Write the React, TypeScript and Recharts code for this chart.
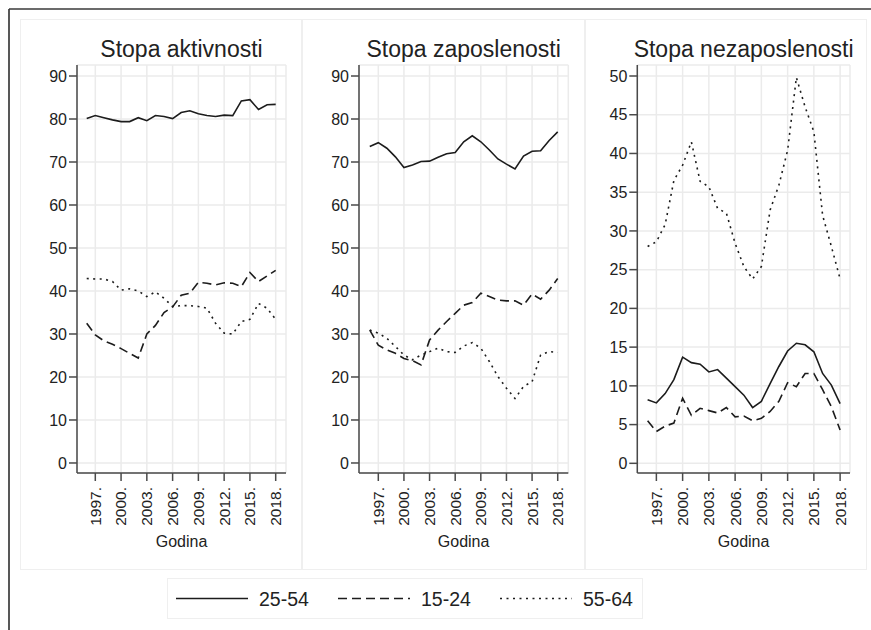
import React from 'react';
import { LineChart, Line, XAxis, YAxis, CartesianGrid } from 'recharts';

const years = [1996, 1997, 1998, 1999, 2000, 2001, 2002, 2003, 2004, 2005, 2006, 2007, 2008, 2009, 2010, 2011, 2012, 2013, 2014, 2015, 2016, 2017, 2018];
const yearTicks = [1997, 2000, 2003, 2006, 2009, 2012, 2015, 2018];
const rateTicks = [0, 10, 20, 30, 40, 50, 60, 70, 80, 90];
const unempTicks = [0, 5, 10, 15, 20, 25, 30, 35, 40, 45, 50];

const seriesNames = ['25-54', '15-24', '55-64'];
const panelTitles = ['Stopa aktivnosti', 'Stopa zaposlenosti', 'Stopa nezaposlenosti'];

// stopa aktivnosti
const activity2554 = [80.1, 80.8, 80.3, 79.8, 79.4, 79.4, 80.3, 79.6, 80.8, 80.6, 80.1, 81.5, 81.9, 81.2, 80.8, 80.6, 80.9, 80.8, 84.2, 84.5, 82.2, 83.3, 83.4];
const activity1524 = [32.5, 29.8, 28.4, 27.6, 26.6, 25.5, 24.4, 30.0, 32.0, 35.0, 36.3, 39.0, 39.5, 42.0, 41.8, 41.4, 41.9, 41.8, 41.0, 44.3, 42.2, 43.5, 44.8];
const activity5564 = [42.9, 42.8, 42.8, 42.2, 40.2, 40.5, 40.0, 38.7, 39.8, 38.3, 36.4, 36.6, 36.6, 36.4, 36.0, 32.5, 30.2, 30.0, 32.9, 33.4, 37.1, 36.0, 33.4];

// stopa zaposlenosti
const employment2554 = [73.6, 74.5, 73.2, 71.2, 68.7, 69.3, 70.1, 70.2, 71.1, 71.9, 72.2, 74.7, 76.1, 74.7, 72.8, 70.7, 69.5, 68.4, 71.4, 72.5, 72.6, 75.0, 77.0];
const employment1524 = [30.9, 27.4, 26.3, 25.5, 24.3, 23.8, 22.8, 28.6, 30.9, 32.9, 34.8, 36.7, 37.3, 39.5, 38.7, 37.9, 37.7, 37.7, 36.7, 39.3, 38.1, 40.2, 42.9];
const employment5564 = [30.9, 30.2, 29.0, 27.1, 25.1, 24.0, 25.1, 25.9, 26.7, 25.9, 25.7, 27.2, 28.0, 26.7, 23.6, 20.1, 17.4, 15.0, 17.8, 18.9, 25.1, 25.9, 25.7];

// stopa nezaposlenosti
const unemployment2554 = [8.2, 7.8, 9.0, 10.8, 13.7, 13.0, 12.8, 11.8, 12.1, 11.0, 9.9, 8.8, 7.2, 8.0, 10.3, 12.5, 14.5, 15.5, 15.3, 14.4, 11.6, 10.1, 7.7];
const unemployment1524 = [5.5, 4.1, 4.8, 5.2, 8.4, 6.2, 7.1, 6.8, 6.5, 7.2, 6.0, 6.1, 5.5, 5.8, 6.7, 8.0, 10.4, 9.9, 11.6, 11.6, 9.5, 7.3, 4.3];
const unemployment5564 = [28.0, 28.6, 30.8, 36.5, 38.5, 41.5, 36.4, 35.7, 32.9, 32.3, 28.4, 25.4, 23.8, 25.4, 32.7, 35.9, 40.4, 49.8, 46.0, 42.8, 32.0, 28.0, 23.8];

const FONT = '"Liberation Sans", Arial, Helvetica, sans-serif';
const INK = '#222';
const AXIS = '#4a4a4a';
const GRID = '#ebebeb';
const dashes = ['', '9 5', '2 4.5'];

const toRows = (a: number[], b: number[], c: number[]) =>
  years.map((year, i) => ({ year, s1: a[i], s2: b[i], s3: c[i] }));

const panels = [
  {
    rows: toRows(activity2554, activity1524, activity5564),
    left: 20, width: 282, ml: 17, mr: 16,
    xDomain: [1994.87, 2019.2], yDomain: [-2.33, 92.56], yTicks: rateTicks,
  },
  {
    rows: toRows(employment2554, employment1524, employment5564),
    left: 302, width: 283, ml: 17, mr: 16.7,
    xDomain: [1994.74, 2019.24], yDomain: [-2.33, 92.56], yTicks: rateTicks,
  },
  {
    rows: toRows(unemployment2554, unemployment1524, unemployment5564),
    left: 585, width: 282, ml: 12.3, mr: 17,
    xDomain: [1994.82, 2019.13], yDomain: [-1.25, 51.42], yTicks: unempTicks,
  },
];

const YearTick = (props: any) => {
  const { x, y, payload } = props;
  return (
    <text x={x} y={y} transform={`rotate(-90, ${x}, ${y})`} textAnchor="end" dy="0.35em"
      fontSize={15.5} fill={INK} fontFamily={FONT}>
      {payload.value}.
    </text>
  );
};

const App = () => {
  return (
    <div style={{ position: 'absolute', left: 0, top: 0, width: 871, height: 630, overflow: 'hidden', background: '#fff', fontFamily: FONT }}>
      {/* panel frames + legend box */}
      {panels.map((p, i) => (
        <div key={'box' + i} style={{ position: 'absolute', left: p.left, top: 19, width: p.width, height: 551, border: '1px solid #efefef', boxSizing: 'border-box' }} />
      ))}
      <div style={{ position: 'absolute', left: 167, top: 578, width: 476, height: 41, border: '1px solid #efefef', boxSizing: 'border-box' }} />

      {panels.map((p, i) => (
        <div key={'chart' + i} style={{ position: 'absolute', left: p.left, top: 19 }}>
          <LineChart width={p.width} height={551} data={p.rows}
            margin={{ top: 46, right: p.mr, bottom: 37, left: p.ml }}>
            <CartesianGrid stroke={GRID} strokeWidth={1.5} />
            <XAxis dataKey="year" type="number" domain={p.xDomain} ticks={yearTicks} allowDataOverflow
              interval={0} height={60} tickSize={8} tickMargin={6} tick={<YearTick />}
              axisLine={{ stroke: AXIS, strokeWidth: 1.5 }} tickLine={{ stroke: AXIS, strokeWidth: 1.5 }} />
            <YAxis type="number" domain={p.yDomain} ticks={p.yTicks} allowDataOverflow interval={0}
              width={40} tickSize={8} tickMargin={2}
              tick={{ fontSize: 16, fill: INK, fontFamily: FONT }}
              axisLine={{ stroke: AXIS, strokeWidth: 1.5 }} tickLine={{ stroke: AXIS, strokeWidth: 1.5 }} />
            {['s1', 's2', 's3'].map((k, j) => (
              <Line key={k} dataKey={k} name={seriesNames[j]} type="linear" stroke="#1c1c1c"
                strokeWidth={1.6} strokeDasharray={dashes[j] || undefined} dot={false}
                activeDot={false} isAnimationActive={false} />
            ))}
          </LineChart>
        </div>
      ))}

      <svg width={871} height={630} style={{ position: 'absolute', left: 0, top: 0, pointerEvents: 'none' }}>
        <line x1={9} y1={9} x2={871} y2={9} stroke="#3a3a3a" strokeWidth={1.7} />
        <line x1={9} y1={9} x2={9} y2={630} stroke="#3a3a3a" strokeWidth={1.7} />
        {[181.5, 463.6, 743.6].map((cx, i) => (
          <text key={'t' + i} x={cx} y={57} textAnchor="middle" fontSize={23} fill={INK} fontFamily={FONT}>{panelTitles[i]}</text>
        ))}
        {[181.5, 463.6, 743.6].map((cx, i) => (
          <text key={'g' + i} x={cx} y={547} textAnchor="middle" fontSize={16} fill={INK} fontFamily={FONT}>Godina</text>
        ))}
        {[176, 338, 500].map((lx, i) => (
          <g key={'l' + i}>
            <line x1={lx} y1={598.5} x2={lx + 72} y2={598.5} stroke="#1c1c1c" strokeWidth={1.7}
              strokeDasharray={dashes[i] || undefined} />
            <text x={lx + 83} y={606} fontSize={19.5} fill={INK} fontFamily={FONT}>{seriesNames[i]}</text>
          </g>
        ))}
      </svg>
    </div>
  );
};

export default App;
